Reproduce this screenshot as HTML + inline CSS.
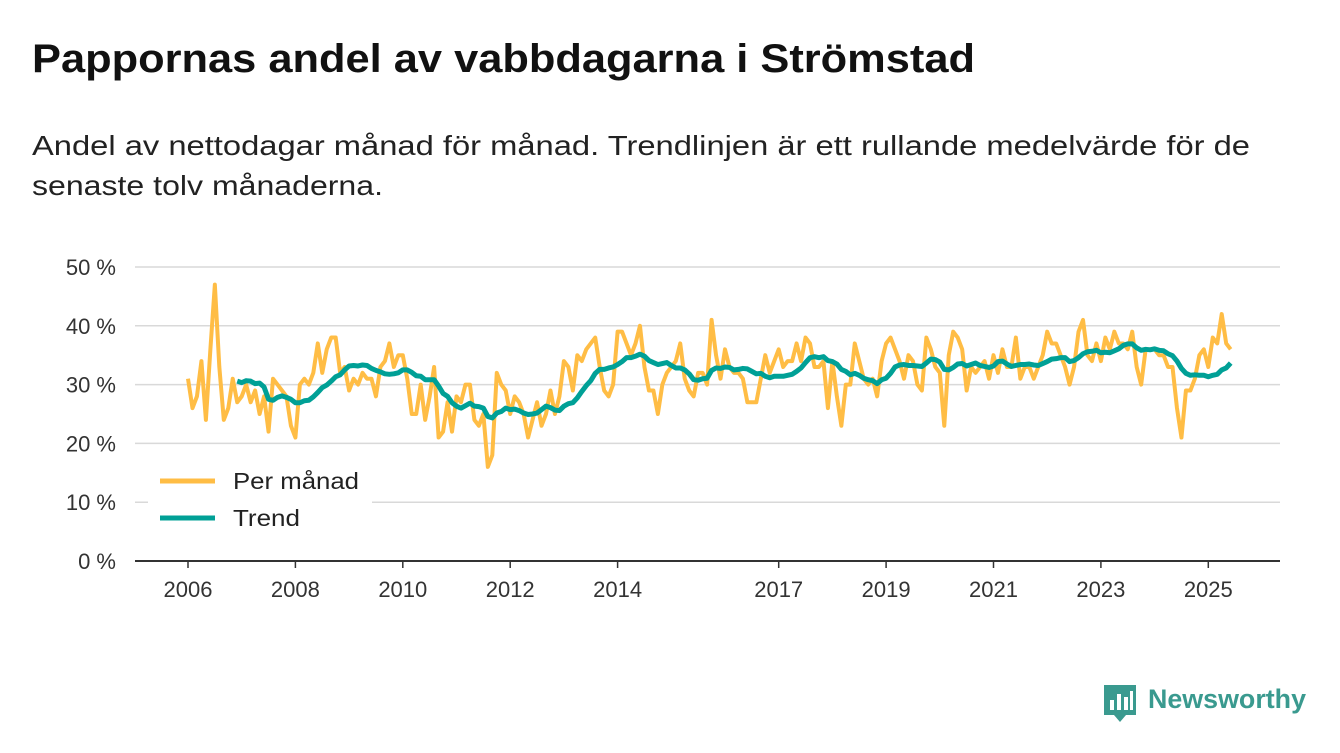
<!DOCTYPE html>
<html><head><meta charset="utf-8"><style>
body{margin:0;width:1340px;height:753px;background:#fff;font-family:"Liberation Sans",sans-serif;overflow:hidden;position:relative}
svg{position:absolute;left:0;top:0}
</style></head><body>
<svg id="c" width="1340" height="753">
<text x="32" y="72" font-size="40" font-weight="bold" fill="#111" textLength="943" lengthAdjust="spacingAndGlyphs">Pappornas andel av vabbdagarna i Strömstad</text>
<text x="32" y="155" font-size="28" fill="#222" textLength="1218" lengthAdjust="spacingAndGlyphs">Andel av nettodagar månad för månad. Trendlinjen är ett rullande medelvärde för de</text>
<text x="32" y="195" font-size="28" fill="#222" textLength="351" lengthAdjust="spacingAndGlyphs">senaste tolv månaderna.</text>
</svg>
<script>
const startYear = 2006;
const yTicks = [0,10,20,30,40,50];
const xTickYears = [2006,2008,2010,2012,2014,2017,2019,2021,2023,2025];
const monthly = [
31,26,28,34,24,36,47,33,24,26,31,27,
28,30,27,29,25,28,22,31,30,29,28,23,
21,30,31,30,32,37,32,36,38,38,32,33,
29,31,30,32,31,31,28,33,34,37,33,35,
35,31,25,25,30,24,28,33,21,22,27,22,
28,27,30,30,24,23,25,16,18,32,30,29,
25,28,27,25,21,24,27,23,25,29,25,28,
34,33,29,35,34,36,37,38,33,29,28,30,
39,39,37,35,37,40,33,29,29,25,30,32,
33,34,37,31,29,28,32,32,30,41,35,31,
36,33,32,32,31,27,27,27,31,35,32,34,
36,33,34,34,37,34,38,37,33,33,34,26,
34,28,23,30,30,37,34,31,30,31,28,34,
37,38,36,34,31,35,34,30,29,38,36,33,
32,23,35,39,38,36,29,33,32,33,34,31,
35,32,36,33,33,38,31,33,33,31,33,35,
39,37,37,35,33,30,33,39,41,35,34,37,
34,38,36,39,37,37,36,39,33,30,36,36,
36,35,35,33,33,26,21,29,29,31,35,36,
33,38,37,42,37,36];
const legendLabels = ["Per månad","Trend"];
const NS="http://www.w3.org/2000/svg";
const svg=document.getElementById('c');
const X=i=>188+i*53.7/12;
const Y=v=>561-v*5.88;
function mk(t,a,p){const e=document.createElementNS(NS,t);for(const k in a)e.setAttribute(k,a[k]);(p||svg).appendChild(e);return e;}
yTicks.forEach(t=>{
  const l=mk('line',{x1:135,x2:1280,y1:Y(t),y2:Y(t),stroke:t===0?'#333':'#d9d9d9','stroke-width':t===0?2:1.5});
  
  
  const tx=mk('text',{x:116,y:Y(t)+8,'text-anchor':'end','font-size':22,fill:'#333'});
  tx.textContent=t+' %';
  
  
});
xTickYears.forEach(yr=>{
  const x=X((yr-startYear)*12);
  const l=mk('line',{x1:x,x2:x,y1:561,y2:568,stroke:'#333','stroke-width':1.5});
  
  
  const tx=mk('text',{x:x,y:597,'text-anchor':'middle','font-size':22,fill:'#333'});
  tx.textContent=yr;
  
  
});
const p1=mk('polyline',{points:monthly.map((v,i)=>X(i)+','+Y(v)).join(' '),fill:'none',stroke:'#ffbd45','stroke-width':4,'stroke-linejoin':'round'});


const trend=[];
for(let i=11;i<monthly.length;i++){let s=0;for(let j=i-11;j<=i;j++)s+=monthly[j];trend.push([i,s/12]);}
const p2=mk('polyline',{points:trend.map(d=>X(d[0])+','+Y(d[1])).join(' '),fill:'none',stroke:'#00a096','stroke-width':5,'stroke-linejoin':'round'});


const bg=mk('rect',{x:148,y:460,width:224,height:80,fill:'#fff'});


['#ffbd45','#00a096'].forEach((c,k)=>{
  const y=481+k*37;
  const l=mk('line',{x1:160,x2:215,y1:y,y2:y,stroke:c,'stroke-width':5});
  
  
  const t=mk('text',{x:233,y:y+8,'font-size':23,fill:'#222',textLength:k?67:126,lengthAdjust:'spacingAndGlyphs'});
  t.textContent=legendLabels[k];
  
  
});
const g=mk('g',{});


mk('path',{d:'M1104 685 h32 v30 h-10 l-6 7 l-6 -7 h-10 z',fill:'#3a9a8f'},g);
[[1110,700,4,10],[1117,694,4,16],[1124,697,4,13],[1130,691,3,19]].forEach(r=>mk('rect',{x:r[0],y:r[1],width:r[2],height:r[3],fill:'#fff'},g));
const lt=mk('text',{x:1148,y:708,'font-size':27,'font-weight':'bold',fill:'#3a9a8f',textLength:158,lengthAdjust:'spacingAndGlyphs'},g);
lt.textContent='Newsworthy';
</script>
</body></html>
